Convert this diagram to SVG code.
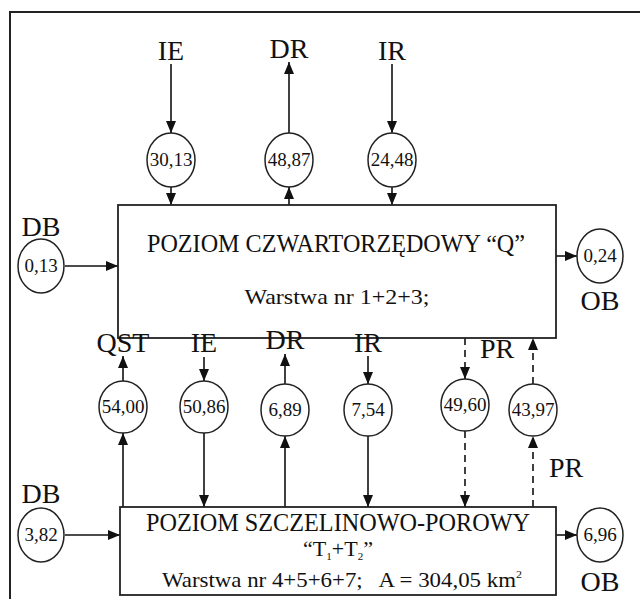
<svg xmlns="http://www.w3.org/2000/svg" width="640" height="599" viewBox="0 0 640 599">
  <defs>
    <marker id="ah" viewBox="0 0 12 10" refX="12" refY="5" markerWidth="12" markerHeight="10" markerUnits="userSpaceOnUse" orient="auto">
      <path d="M0,0 L12,5 L0,10 Z" fill="#111"/>
    </marker>
  </defs>
  <style>
    .frame { fill: none; stroke: #222; stroke-width: 2; }
    .box { fill: #fff; stroke: #222; stroke-width: 1.8; }
    .node { fill: #fff; stroke: #222; stroke-width: 1.5; }
    .val { font-family: "Liberation Serif", "Times New Roman", serif; font-size: 19px; fill: #111; text-anchor: middle; }
    .lbl { font-family: "Liberation Serif", "Times New Roman", serif; font-size: 28px; fill: #111; text-anchor: middle; }
    .title { font-family: "Liberation Serif", "Times New Roman", serif; font-size: 25px; fill: #111; text-anchor: middle; }
    .sub { font-family: "Liberation Serif", "Times New Roman", serif; font-size: 21px; fill: #111; text-anchor: middle; }
    .flow { stroke: #111; stroke-width: 1.6; fill: none; marker-end: url(#ah); }
    .dash { stroke-dasharray: 7 5; }
  </style>
  <rect width="640" height="599" fill="#fff"/>
  <rect class="frame" x="10" y="12" width="650" height="600"/>

  <!-- connectors -->
  <g id="connectors">
    <!-- upper level, top side -->
    <line class="flow" x1="171" y1="64" x2="171" y2="133"/>
    <line class="flow" x1="171" y1="187" x2="171" y2="205"/>
    <line class="flow" x1="289" y1="133" x2="289" y2="62"/>
    <line class="flow" x1="289" y1="205" x2="289" y2="187"/>
    <line class="flow" x1="392" y1="64" x2="392" y2="133"/>
    <line class="flow" x1="392" y1="187" x2="392" y2="205"/>
    <!-- upper level, sides -->
    <line class="flow" x1="65" y1="266" x2="118" y2="266"/>
    <line class="flow" x1="556" y1="256" x2="577" y2="256"/>
    <!-- between levels -->
    <line class="flow" x1="123" y1="381" x2="123" y2="356"/>
    <line class="flow" x1="123" y1="507" x2="123" y2="433"/>
    <line class="flow" x1="204" y1="357" x2="204" y2="381"/>
    <line class="flow" x1="204" y1="433" x2="204" y2="507"/>
    <line class="flow" x1="285" y1="384" x2="285" y2="354"/>
    <line class="flow" x1="285" y1="507" x2="285" y2="436"/>
    <line class="flow" x1="368" y1="356" x2="368" y2="384"/>
    <line class="flow" x1="368" y1="436" x2="368" y2="507"/>
    <line class="flow dash" x1="465" y1="338" x2="465" y2="379"/>
    <line class="flow dash" x1="465" y1="431" x2="465" y2="507"/>
    <line class="flow dash" x1="533" y1="384" x2="533" y2="338"/>
    <line class="flow dash" x1="533" y1="507" x2="533" y2="436"/>
    <!-- lower level, sides -->
    <line class="flow" x1="65" y1="535" x2="120" y2="535"/>
    <line class="flow" x1="556" y1="535" x2="577" y2="535"/>
  </g>

  <!-- upper aquifer -->
  <g id="poziom-q">
    <rect class="box" x="118" y="205" width="438" height="133"/>
    <text class="title" x="336" y="252" textLength="378" lengthAdjust="spacingAndGlyphs">POZIOM CZWARTORZĘDOWY “Q”</text>
    <text class="sub" x="337" y="304" textLength="185" lengthAdjust="spacingAndGlyphs">Warstwa nr 1+2+3;</text>
  </g>

  <!-- lower aquifer -->
  <g id="poziom-t">
    <rect class="box" x="120" y="507" width="436" height="88"/>
    <text class="title" x="338" y="531" textLength="384" lengthAdjust="spacingAndGlyphs">POZIOM SZCZELINOWO-POROWY</text>
    <text class="sub" x="338" y="556" style="font-size:22px">“T<tspan font-size="11" dy="4">1</tspan><tspan dy="-4">+T</tspan><tspan font-size="11" dy="4">2</tspan><tspan dy="-4">”</tspan></text>
    <text class="sub" x="342" y="587" xml:space="preserve" textLength="360" lengthAdjust="spacingAndGlyphs">Warstwa nr 4+5+6+7;   A = 304,05 km<tspan font-size="11" dy="-9">2</tspan></text>
  </g>

  <!-- upper level flows -->
  <g id="ie-q">
    <text class="lbl" x="171" y="60">IE</text>
    <ellipse class="node" cx="171" cy="160" rx="24" ry="27"/>
    <text class="val" x="171" y="166">30,13</text>
  </g>
  <g id="dr-q">
    <text class="lbl" x="289" y="58">DR</text>
    <ellipse class="node" cx="289" cy="160" rx="24" ry="27"/>
    <text class="val" x="289" y="166">48,87</text>
  </g>
  <g id="ir-q">
    <text class="lbl" x="392" y="60">IR</text>
    <ellipse class="node" cx="392" cy="160" rx="24" ry="27"/>
    <text class="val" x="392" y="166">24,48</text>
  </g>
  <g id="db-q">
    <text class="lbl" x="41" y="236">DB</text>
    <ellipse class="node" cx="41" cy="266" rx="23" ry="27"/>
    <text class="val" x="41" y="272">0,13</text>
  </g>
  <g id="ob-q">
    <ellipse class="node" cx="600" cy="256" rx="23" ry="27"/>
    <text class="val" x="600" y="262">0,24</text>
    <text class="lbl" x="600" y="310">OB</text>
  </g>

  <!-- exchange between levels -->
  <g id="qst">
    <text class="lbl" x="123" y="352">QST</text>
    <ellipse class="node" cx="123" cy="407" rx="24" ry="26"/>
    <text class="val" x="123" y="413">54,00</text>
  </g>
  <g id="ie-t">
    <text class="lbl" x="204" y="352">IE</text>
    <ellipse class="node" cx="204" cy="407" rx="24" ry="26"/>
    <text class="val" x="204" y="413">50,86</text>
  </g>
  <g id="dr-t">
    <text class="lbl" x="285" y="349">DR</text>
    <ellipse class="node" cx="285" cy="410" rx="24" ry="26"/>
    <text class="val" x="285" y="416">6,89</text>
  </g>
  <g id="ir-t">
    <text class="lbl" x="368" y="352">IR</text>
    <ellipse class="node" cx="368" cy="410" rx="24" ry="26"/>
    <text class="val" x="368" y="416">7,54</text>
  </g>
  <g id="pr-down">
    <text class="lbl" x="497" y="358">PR</text>
    <ellipse class="node" cx="465" cy="405" rx="24" ry="26"/>
    <text class="val" x="465" y="411">49,60</text>
  </g>
  <g id="pr-up">
    <ellipse class="node" cx="533" cy="410" rx="24" ry="26"/>
    <text class="val" x="533" y="416">43,97</text>
    <text class="lbl" x="566" y="477">PR</text>
  </g>

  <!-- lower level sides -->
  <g id="db-t">
    <text class="lbl" x="41" y="503">DB</text>
    <ellipse class="node" cx="41" cy="535" rx="23" ry="27"/>
    <text class="val" x="41" y="541">3,82</text>
  </g>
  <g id="ob-t">
    <ellipse class="node" cx="600" cy="535" rx="23" ry="27"/>
    <text class="val" x="600" y="541">6,96</text>
    <text class="lbl" x="600" y="591">OB</text>
  </g>
</svg>
